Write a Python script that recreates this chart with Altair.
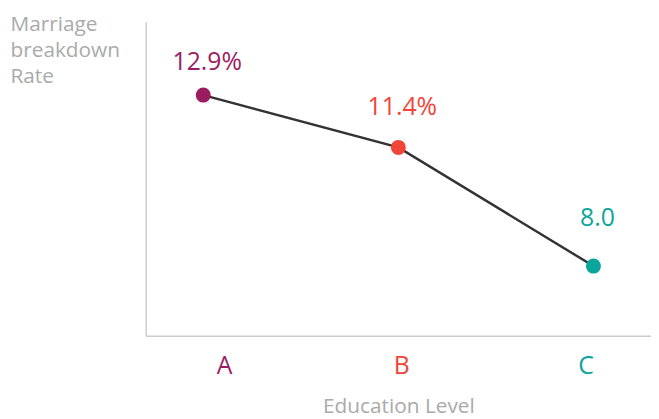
import altair as alt
import pandas as pd

levels = ["A", "B", "C"]
rates = [12.9, 11.4, 8.0]
labels = ["12.9%", "11.4%", "8.0"]
colors = ["#9b1d61", "#f2453a", "#0aa59b"]

df = pd.DataFrame({"Level": levels, "Rate": rates, "Label": labels})

FONT = "Open Sans"
GREY = "#aaaaaa"

x_enc = alt.X(
    "Level:N",
    sort=levels,
    scale=alt.Scale(type="point", padding=0.295),
    axis=alt.Axis(
        title="Education Level",
        titleFont=FONT, titleFontSize=21, titleFontWeight="normal",
        titleColor=GREY, titlePadding=17,
        labelFont=FONT, labelFontSize=25, labelAngle=0,
        labelPadding=18,
        labelColor={"condition": [
            {"test": "datum.value == 'A'", "value": colors[0]},
            {"test": "datum.value == 'B'", "value": colors[1]},
        ], "value": colors[2]},
        labelOffset={"condition": [
            {"test": "datum.value == 'A'", "value": 21},
            {"test": "datum.value == 'B'", "value": 3},
        ], "value": -8},
        ticks=False, domainColor="#cccccc", domainWidth=1.5, grid=False,
    ),
)

y_enc = alt.Y(
    "Rate:Q",
    scale=alt.Scale(domain=[6, 15], nice=False, zero=False),
    axis=alt.Axis(
        title=["Marriage", "breakdown", "Rate"],
        titleAngle=0, titleAlign="left", titleBaseline="top",
        titleX=-137, titleY=-8, titleLineHeight=26,
        titleFont=FONT, titleFontSize=21, titleFontWeight="normal",
        titleColor=GREY,
        labels=False, ticks=False, grid=False,
        domainColor="#cccccc", domainWidth=1.5,
    ),
)

color_enc = alt.Color("Level:N", scale=alt.Scale(domain=levels, range=colors), legend=None)

base = alt.Chart(df).encode(x=x_enc, y=y_enc)

line = base.mark_line(color="#333333", strokeWidth=2.5)
points = base.mark_point(filled=True, size=230, opacity=1).encode(color=color_enc)
text = base.mark_text(
    font=FONT, fontSize=25, baseline="alphabetic", dx=4,
    dy={"expr": "datum.Level == 'A' ? -25 : datum.Level == 'B' ? -33 : -40"},
).encode(text="Label:N", color=color_enc)

chart = (line + points + text).properties(
    width=510, height=317,
    autosize=alt.AutoSizeParams(type="none"),
    padding={"left": 139, "top": 12, "right": 0, "bottom": 82},
).configure_view(stroke=None)

chart.save("out.html", embed_options={"renderer": "svg", "actions": False})
